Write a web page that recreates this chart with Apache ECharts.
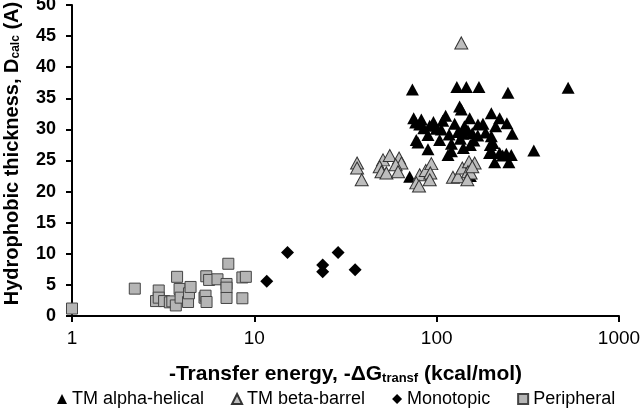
<!DOCTYPE html>
<html><head><meta charset="utf-8">
<script src="https://cdn.jsdelivr.net/npm/echarts@6/dist/echarts.min.js"></script>
<style>html,body{margin:0;padding:0;background:#fff}#c{width:640px;height:413px}</style>
</head><body><div id="c"></div>
<script>
const xTicks = [1, 10, 100, 1000];
const yTicks = [0, 5, 10, 15, 20, 25, 30, 35, 40, 45, 50];
const seriesNames = ['TM alpha-helical', 'TM beta-barrel', 'Monotopic', 'Peripheral'];

const alphaHelical = [
  [73.6,36.4],[129,36.8],[145.5,36.8],[170.6,36.8],[246,35.9],[526,36.7],[341,26.6],
  [133.6,33.7],[136.5,33.2],[74.8,31.8],[82.4,31.6],[76.7,31.1],[80.7,30.8],[91.6,30.6],
  [99.6,30.1],[106,30],[112,32.2],[108,31.4],[125.5,30.9],[151.7,31.8],[142,30.5],
  [148.5,29.8],[139.4,29.3],[156.8,29.4],[168.4,30.8],[179.4,30.9],[185.5,29.5],
  [199.4,32.6],[221.5,31.8],[210.5,30.5],[242.7,31],[259.6,29.3],[77.3,28.3],[79,27.9],
  [89.6,29.1],[89.6,26.8],[103.8,28.3],[120.5,27.7],[120.5,26.5],[115.4,25.9],
  [134.9,28.5],[153,27.5],[199.4,28.9],[203.7,27.8],[199.4,26.5],[208,24.7],[221.5,26.2],
  [241,26.1],[256.6,25.9],[249,24.7],[71.1,22.4],[153,22.5],[195,26.2],[168,29],
  [131,29.6],[160,28.2],[85,30.2],[96,31.2],[117,29.2],[140,27],[197,27.5],[230,25.8]
];
const betaBarrel = [
  [36.6,24.6],[36.6,23.8],[38.8,21.9],[136.5,43.9],[50.8,25.1],[55.3,25.8],[48.7,24.0],
  [49.8,23.2],[53,23],[62.2,25.4],[64.1,24.6],[59.6,24.3],[61.4,23.2],[80.7,22.7],
  [77.3,21.4],[80,20.9],[87.1,23.4],[93.5,24.5],[92.3,23],[91.6,21.9],[122.8,22.3],
  [130.8,22.4],[138.2,23.8],[150.4,24.8],[161.5,24.6],[148.5,23.2],[153.6,23],
  [147.3,21.9],[156.8,24]
];
const monotopic = [
  [11.7,5.6],[15.2,10.2],[23.7,8.2],[23.7,7.1],[28.8,10.2],[35.7,7.45]
];
const peripheral = [
  [1,1.2],[2.21,4.4],[2.99,4.1],[2.89,2.4],[2.99,2.95],[3.2,2.4],[3.44,2.2],[3.55,2.35],
  [3.71,1.7],[3.77,6.3],[3.89,4.35],[3.94,2.95],[4.33,2.25],[4.38,3.65],[4.47,4.67],
  [5.33,2.95],[5.4,3.27],[5.47,2.25],[5.45,6.39],[5.65,5.8],[6.28,5.9],[7.04,5.15],
  [7.04,4.56],[7.2,8.4],[7.04,2.9],[8.6,6.2],[8.98,6.3],[8.6,2.85]
];

const chart = echarts.init(document.getElementById('c'), null, {renderer: 'canvas'});
const font = 'Liberation Sans, Arial, sans-serif';
chart.setOption({
  animation: false,
  backgroundColor: '#fff',
  grid: {left: 72, right: 21, top: 5, bottom: 97, containLabel: false, outerBoundsMode: 'none'},
  legend: {
    bottom: 0, left: 52, itemGap: 27, itemWidth: 10, itemHeight: 10,
    textStyle: {fontFamily: font, fontSize: 18, color: '#000'},
    data: [
      {name: seriesNames[0], icon: 'triangle'},
      {name: seriesNames[1], icon: 'triangle'},
      {name: seriesNames[2], icon: 'diamond'},
      {name: seriesNames[3], icon: 'rect'}
    ]
  },
  xAxis: {
    type: 'log', logBase: 10, min: xTicks[0], max: xTicks[xTicks.length - 1],
    axisLine: {lineStyle: {color: '#000', width: 2}},
    axisTick: {show: true, length: 6, lineStyle: {color: '#000', width: 2}},
    minorTick: {show: false}, splitLine: {show: false},
    axisLabel: {fontFamily: font, fontSize: 19, color: '#000', margin: 13,
      formatter: v => String(Math.round(v))},
    name: '{a|-Transfer energy, -ΔG}{b|transf}{a| (kcal/mol)}',
    nameLocation: 'middle', nameGap: 47,
    nameTextStyle: {rich: {
      a: {fontFamily: font, fontSize: 21, fontWeight: 'bold', color: '#000'},
      b: {fontFamily: font, fontSize: 13, fontWeight: 'bold', color: '#000', padding: [9, 0, 0, 0]}
    }}
  },
  yAxis: {
    type: 'value', min: yTicks[0], max: yTicks[yTicks.length - 1], interval: 5,
    axisLine: {show: true, lineStyle: {color: '#000', width: 2}},
    axisTick: {show: true, length: 6, lineStyle: {color: '#000', width: 2}},
    splitLine: {show: false},
    axisLabel: {fontFamily: font, fontSize: 18, fontWeight: 'bold', color: '#000', margin: 16},
    name: '{a|Hydrophobic thickness, D}{b|calc}{a| (A)}',
    nameLocation: 'middle', nameGap: 50,
    nameTextStyle: {padding: [0, 0, 0, 14], rich: {
      a: {fontFamily: font, fontSize: 20, fontWeight: 'bold', color: '#000'},
      b: {fontFamily: font, fontSize: 12, fontWeight: 'bold', color: '#000', padding: [8, 0, 0, 0]}
    }}
  },
  series: [
    {name: seriesNames[0], type: 'scatter', data: alphaHelical, symbol: 'triangle', symbolSize: [13, 12],
     itemStyle: {color: '#000', opacity: 1}},
    {name: seriesNames[1], type: 'scatter', data: betaBarrel, symbol: 'triangle', symbolSize: [13, 12],
     itemStyle: {color: '#bdbdbd', borderColor: '#333', borderWidth: 1, opacity: 1}},
    {name: seriesNames[2], type: 'scatter', data: monotopic, symbol: 'diamond', symbolSize: [13, 13],
     itemStyle: {color: '#000', opacity: 1}},
    {name: seriesNames[3], type: 'scatter', data: peripheral, symbol: 'rect', symbolSize: [11, 11],
     itemStyle: {color: '#b5b5b5', borderColor: '#444', borderWidth: 1, opacity: 1}}
  ]
});
</script></body></html>
